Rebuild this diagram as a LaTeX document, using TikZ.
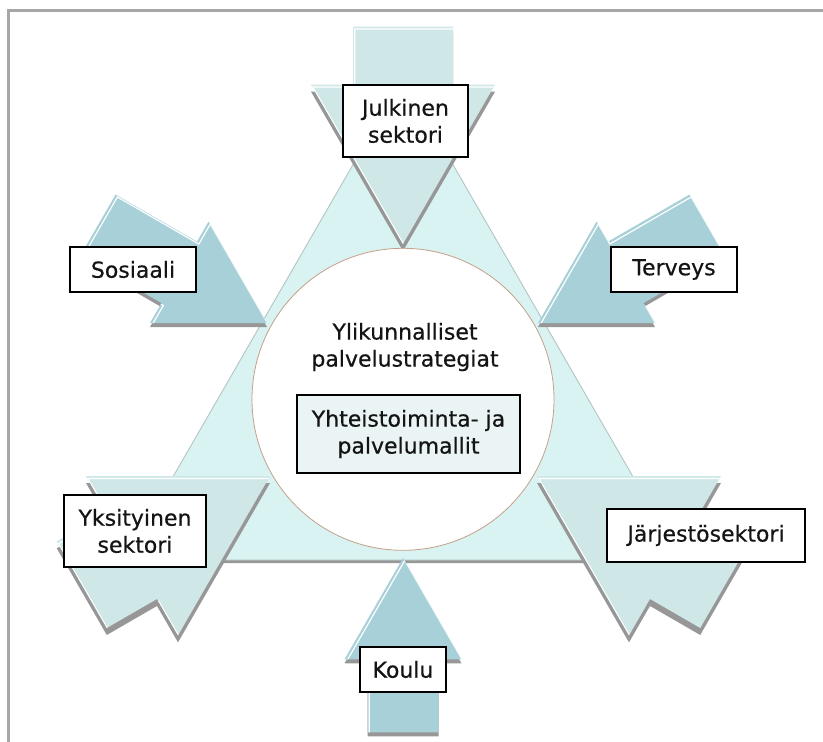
\documentclass[tikz,border=0pt]{standalone}
\usepackage{fontspec}
\setmainfont{DejaVu Sans}
\newfontfamily\labelface{DejaVu Sans}[FakeBold=0.5]

\definecolor{framegray}{HTML}{A6A6A6}
\definecolor{tripale}{HTML}{D8F3F1}
\definecolor{triedge}{HTML}{B4C4C4}
\definecolor{arrowpale}{HTML}{CFE7E7}
\definecolor{arrowteal}{HTML}{A8D0D9}
\definecolor{dropgray}{HTML}{979797}
\definecolor{ringtan}{HTML}{C4A08A}
\definecolor{boxtint}{HTML}{EAF4F5}
\definecolor{inkblack}{HTML}{141414}

\tikzset{
  labelfont/.style={font=\labelface\fontsize{22}{27}\selectfont, text=inkblack},
  labelbox/.style={labelfont, draw=black, line width=1.6pt, fill=white,
    align=center, inner sep=0pt},
}

% Block arrow with an equilateral head: tip at (#1,#2), heading #3 (degrees),
% head side #4, shaft width #5, shaft length #6, fill colour #7, drop shadow #8.
\newcommand\blockarrow[8]{%
  \pgfmathsetmacro\hh{0.866*#4}%
  \pgfmathsetmacro\hs{#4/2}%
  \pgfmathsetmacro\ws{#5/2}%
  \pgfmathsetmacro\tl{0.866*#4+#6}%
  \fill[dropgray, shift={(#1,#2+#8)}, rotate=#3]
    (0,0) -- (-\hh,\hs) -- (-\hh,\ws) -- (-\tl,\ws) -- (-\tl,-\ws) -- (-\hh,-\ws) -- (-\hh,-\hs) -- cycle;
  \fill[#7, shift={(#1,#2)}, rotate=#3]
    (0,0) -- (-\hh,\hs) -- (-\hh,\ws) -- (-\tl,\ws) -- (-\tl,-\ws) -- (-\hh,-\ws) -- (-\hh,-\hs) -- cycle;
  \begin{scope}
    \clip[shift={(#1,#2)}, rotate=#3]
      (0,0) -- (-\hh,\hs) -- (-\hh,\ws) -- (-\tl,\ws) -- (-\tl,-\ws) -- (-\hh,-\ws) -- (-\hh,-\hs) -- cycle;
    \draw[white, line width=1.2pt, line join=miter, shift={(#1+1.8,#2+2.4)}, rotate=#3]
      (0,0) -- (-\hh,\hs) -- (-\hh,\ws) -- (-\tl,\ws) -- (-\tl,-\ws) -- (-\hh,-\ws) -- (-\hh,-\hs) -- cycle;
  \end{scope}%
}

\begin{document}
\begin{tikzpicture}[x=1pt, y=-1pt]
\useasboundingbox (0,0) rectangle (823,742);
\fill[white] (0,0) rectangle (823,742);

% frame edges
\draw[framegray, line width=2.4pt] (8.5,742) -- (8.5,10.5) -- (823,10.5);

% central triangle with its drop shadow
\fill[dropgray] (403,81) -- (125,563) -- (681,563) -- cycle;
\draw[triedge, fill=tripale, line width=0.9pt] (403,78) -- (125,560) -- (681,560) -- cycle;

% large sector arrows
\blockarrow{403}{244}{-90}{184}{100}{58}{arrowpale}{7}
\blockarrow{270}{476}{30}{184}{100}{58}{arrowpale}{7}
\blockarrow{537}{476}{150}{184}{100}{58}{arrowpale}{7}

% small field arrows
\blockarrow{267}{323}{-30}{117}{71}{94}{arrowteal}{4}
\blockarrow{538}{323}{210}{117}{71}{94}{arrowteal}{4}
\blockarrow{403}{558}{90}{117}{71}{73}{arrowteal}{4}

% hub
\node[circle, draw=ringtan, line width=0.8pt, fill=white, minimum size=302pt, inner sep=0pt]
  (hub) at (403,399.3) {};
\node[labelfont, align=center, inner sep=0pt] (strat) at (405,347)
  {Ylikunnalliset\\palvelustrategiat};
\node[labelbox, fill=boxtint, minimum width=223pt, minimum height=78pt]
  (models) at (408.5,434) {Yhteistoiminta- ja\\palvelumallit};

% sector labels
\node[labelbox, minimum width=125pt, minimum height=72pt] (julk) at (405.5,121) {Julkinen\\sektori};
\node[labelbox, minimum width=126pt, minimum height=45pt] (sos) at (133,269.5) {Sosiaali};
\node[labelbox, minimum width=126pt, minimum height=45pt] (terv) at (674,269.5) {Terveys};
\node[labelbox, minimum width=142pt, minimum height=72pt] (yks) at (135,531) {Yksityinen\\sektori};
\node[labelbox, minimum width=198pt, minimum height=53pt] (jarj) at (706,535.5) {Järjestösektori};
\node[labelbox, minimum width=86pt, minimum height=45pt] (koulu) at (403,669.5) {Koulu};
\end{tikzpicture}
\end{document}
